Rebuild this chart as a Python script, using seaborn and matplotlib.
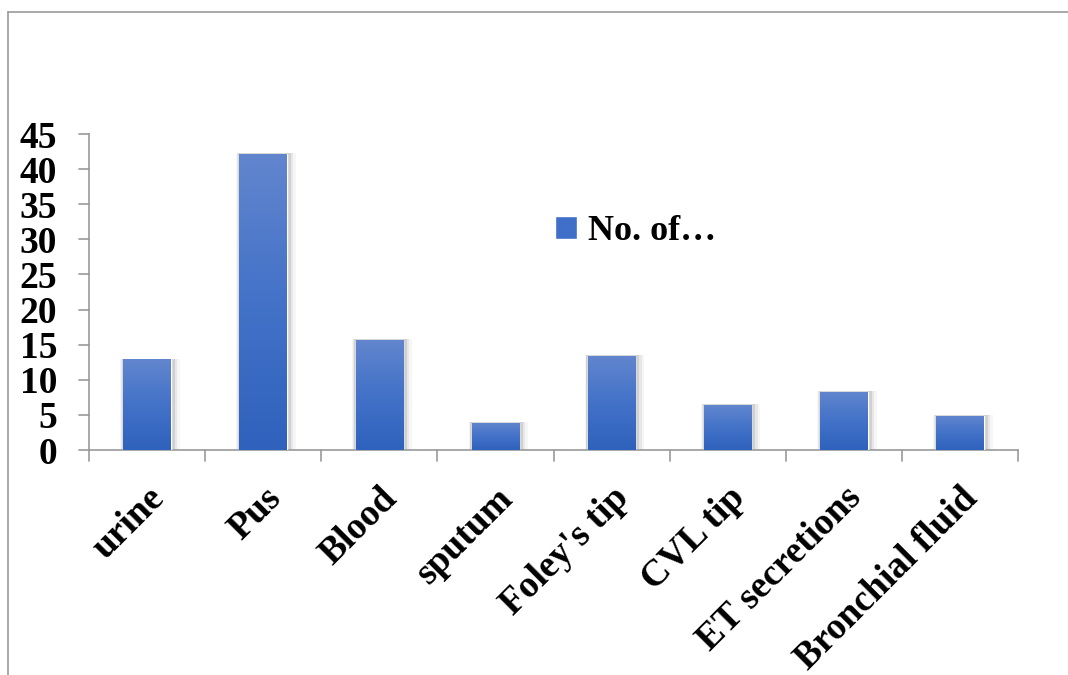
import numpy as np
import pandas as pd
import matplotlib
matplotlib.use("Agg")
import matplotlib.pyplot as plt
import seaborn as sns
from matplotlib.lines import Line2D
from matplotlib.patches import Rectangle
from matplotlib.colors import LinearSegmentedColormap

categories = ["urine", "Pus", "Blood", "sputum", "Foley's tip", "CVL tip", "ET secretions", "Bronchial fluid"]
values = [12.9, 42.2, 15.7, 3.9, 13.4, 6.4, 8.3, 4.9]
series_name = "No. of\u2026"
yticks = [0, 5, 10, 15, 20, 25, 30, 35, 40, 45]

sns.set_theme(style="white")
plt.rcParams['font.family'] = ['Liberation Serif', 'DejaVu Serif']
plt.rcParams['text.color'] = 'black'

df = pd.DataFrame({"category": categories, "value": values})

fig = plt.figure(figsize=(10.68, 6.75), dpi=100)
ax = fig.add_axes([89/1068, 1-450/675, (1018-89)/1068, (450-134)/675])

sns.barplot(data=df, x="category", y="value", color="#3F6FC8", width=0.41,
            saturation=1, ax=ax, label=series_name, zorder=3)

# gradient fill + soft shadow
grad = np.linspace(0, 1, 256).reshape(-1, 1)
cmap = LinearSegmentedColormap.from_list("g", ["#2F62BD", "#4372C8", "#6286CE"])
for p in list(ax.patches):
    x0, y0 = p.get_x(), p.get_y()
    w, h = p.get_width(), p.get_height()
    for dx, a in [(0.08, 0.07), (0.055, 0.12), (0.035, 0.22)]:
        sh = Rectangle((x0 - dx / 3, y0 - 0.3), w + dx * 1.3, h + 0.4, facecolor="#808080",
                       edgecolor="none", alpha=a, zorder=2)
        ax.add_patch(sh)
    im = ax.imshow(grad, cmap=cmap, aspect="auto", extent=(x0, x0 + w, y0, y0 + h),
                   origin="lower", zorder=3.5)
    im.set_clip_path(p)

ax.set_xlim(-0.5, len(categories) - 0.5)
ax.set_ylim(0, 45)
ax.set_yticks(yticks)
ax.set_yticklabels([str(t) for t in yticks], fontsize=27, fontweight="bold", color="black")
ax.set_xticks(np.arange(len(categories)))
ax.set_xticklabels(categories, fontsize=27, fontweight="bold", rotation=45, color="black",
                   ha="right", rotation_mode="anchor")
ax.tick_params(axis="x", length=0, pad=22)
ax.tick_params(axis="y", length=0, pad=23)
ax.set_xlabel("")
ax.set_ylabel("")

for s in ["top", "right"]:
    ax.spines[s].set_visible(False)
for s in ["left", "bottom"]:
    ax.spines[s].set_color("#999999")
    ax.spines[s].set_linewidth(1.2)

# y ticks (outward) and x ticks at category boundaries
for t in yticks:
    ax.plot([-0.5 - 0.086, -0.5], [t, t], color="#999999", lw=1.2, clip_on=False, zorder=1)
for b in np.arange(len(categories) + 1) - 0.5:
    ax.plot([b, b], [0, -1.6], color="#999999", lw=1.2, clip_on=False, zorder=1)

leg = ax.legend(loc="center left", bbox_to_anchor=(0.502, 0.69), frameon=False,
                prop={"family": "Liberation Serif", "weight": "bold", "size": 26},
                handlelength=0.6, handleheight=0.6, handletextpad=0.3,
                borderaxespad=0, borderpad=0, labelcolor="black")

# outer chart border (left and top)
fig.add_artist(Line2D([8/1068, 8/1068], [0, 1-12/675], color="#999999", lw=1.2))
fig.add_artist(Line2D([8/1068, 1], [1-12/675, 1-12/675], color="#999999", lw=1.2))

fig.savefig("out.png", dpi=100, facecolor="white")
